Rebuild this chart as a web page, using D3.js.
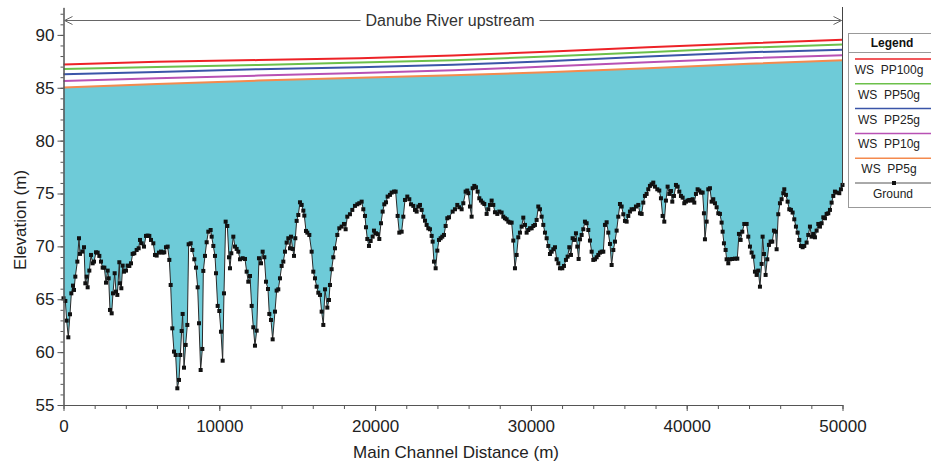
<!DOCTYPE html>
<html>
<head>
<meta charset="utf-8">
<script src="https://cdn.jsdelivr.net/npm/d3@7"></script>
<style>
  body { margin: 0; background: #fff; }
  svg { display: block; font-family: "Liberation Sans", Arial, sans-serif; }
</style>
</head>
<body>
<svg width="931" height="461"></svg>
<script>
// water surface profiles, read at a few stations along the reach
const wsStations = [0, 6000, 12500, 19000, 25000, 31000, 37500, 44000, 50000];
const ws100 = [87.2, 87.45, 87.62, 87.8, 88.05, 88.4, 88.83, 89.2, 89.55];
const ws50 = [86.78, 86.97, 87.16, 87.38, 87.6, 87.95, 88.36, 88.8, 89.08];
const ws25 = [86.27, 86.5, 86.75, 86.95, 87.18, 87.5, 87.95, 88.36, 88.6];
const ws10 = [85.65, 85.9, 86.15, 86.4, 86.65, 87.0, 87.42, 87.8, 88.07];
const ws5 = [85.02, 85.35, 85.68, 85.95, 86.18, 86.47, 86.85, 87.26, 87.6];

const seriesNames = ["WS  PP100g", "WS  PP50g", "WS  PP25g", "WS  PP10g", "WS  PP5g"];
const seriesColors = ["#ed2227", "#6cc04a", "#3a55a8", "#b851b4", "#f48a4e"];

// ground profile (main channel bed)
const groundDist = [
  0, 118, 203, 310, 417, 503, 610, 674, 759, 888, 995, 1059, 1209, 1316, 1401, 1487, 1551, 1658, 1765, 1872,
  1958, 2086, 2193, 2300, 2407, 2514, 2621, 2728, 2835, 2899, 2984, 3092, 3177, 3284, 3369, 3455, 3583, 3626, 3712, 3797,
  3883, 4011, 4118, 4225, 4332, 4439, 4546, 4696, 4824, 4910, 5017, 5166, 5295, 5402, 5509, 5616, 5765, 5872, 5980, 6129,
  6258, 6365, 6471, 6578, 6685, 6792, 6878, 6985, 7092, 7199, 7306, 7413, 7498, 7584, 7648, 7734, 7841, 7948, 8033, 8162,
  8269, 8397, 8504, 8611, 8697, 8803, 8910, 8974, 9081, 9189, 9296, 9445, 9510, 9617, 9723, 9788, 9895, 10001, 10108, 10216,
  10301, 10408, 10515, 10622, 10686, 10771, 10900, 11007, 11114, 11221, 11328, 11499, 11649, 11756, 11862, 11970, 12077, 12183, 12290, 12398,
  12547, 12676, 12783, 12890, 12997, 13125, 13210, 13317, 13425, 13574, 13681, 13787, 13895, 14002, 14109, 14216, 14323, 14430, 14537, 14601,
  14708, 14794, 14879, 14965, 15072, 15179, 15286, 15393, 15457, 15564, 15649, 15778, 15927, 16034, 16141, 16248, 16355, 16462, 16569, 16676,
  16783, 16933, 17040, 17104, 17211, 17318, 17425, 17574, 17703, 17852, 18002, 18109, 18216, 18387, 18537, 18708, 18858, 18987, 19136, 19243,
  19350, 19415, 19500, 19607, 19714, 19843, 19928, 20056, 20163, 20270, 20377, 20484, 20591, 20698, 20806, 20955, 21062, 21212, 21319, 21447,
  21554, 21704, 21811, 21918, 22067, 22196, 22303, 22452, 22560, 22667, 22773, 22880, 22987, 23094, 23202, 23308, 23415, 23522, 23629, 23693,
  23779, 23886, 23993, 24100, 24207, 24313, 24420, 24528, 24634, 24742, 24977, 25127, 25276, 25405, 25554, 25661, 25811, 25918, 25982, 26089,
  26196, 26260, 26367, 26474, 26581, 26688, 26795, 26902, 27009, 27159, 27266, 27373, 27480, 27587, 27694, 27843, 27972, 28121, 28228, 28335,
  28442, 28549, 28656, 28763, 28870, 28977, 29084, 29191, 29298, 29405, 29512, 29619, 29726, 29833, 29940, 30047, 30154, 30261, 30368, 30475,
  30582, 30689, 30796, 30903, 31010, 31117, 31224, 31331, 31438, 31545, 31652, 31759, 31866, 32015, 32122, 32250, 32357, 32464, 32571, 32678,
  32785, 32892, 32978, 33063, 33149, 33256, 33363, 33470, 33577, 33684, 33791, 33898, 34005, 34112, 34219, 34326, 34433, 34540, 34647, 34754,
  34861, 34968, 35075, 35182, 35289, 35396, 35503, 35610, 35717, 35824, 35931, 36038, 36144, 36251, 36358, 36465, 36615, 36743, 36893, 37000,
  37107, 37213, 37320, 37427, 37534, 37641, 37748, 37855, 37962, 38112, 38240, 38347, 38455, 38561, 38668, 38776, 38883, 38990, 39075, 39182,
  39311, 39417, 39524, 39631, 39738, 39845, 39952, 40059, 40166, 40273, 40380, 40487, 40594, 40701, 40808, 40915, 41022, 41107, 41171, 41279,
  41385, 41492, 41599, 41706, 41814, 41921, 42027, 42134, 42241, 42306, 42391, 42498, 42562, 42669, 42776, 42926, 43098, 43247, 43354, 43461,
  43568, 43696, 43846, 43953, 44060, 44167, 44274, 44381, 44488, 44595, 44702, 44809, 44873, 44958, 45065, 45172, 45279, 45386, 45493, 45600,
  45707, 45771, 45878, 45985, 46092, 46199, 46263, 46370, 46477, 46584, 46691, 46798, 46905, 47012, 47119, 47226, 47333, 47441, 47547, 47697,
  47804, 47911, 48018, 48125, 48232, 48339, 48446, 48553, 48660, 48767, 48874, 48981, 49088, 49195, 49302, 49409, 49516, 49623, 49794, 49900,
  50000
];
const groundElev = [
  65.09, 64.84, 62.98, 61.40, 63.58, 65.56, 66.29, 65.88, 67.14, 68.56, 70.77, 69.29, 69.51, 69.92, 66.51, 67.14, 66.13, 67.71, 69.19, 68.40,
  68.56, 69.44, 69.41, 69.10, 68.56, 67.99, 67.99, 66.57, 67.71, 66.98, 63.99, 63.67, 65.56, 67.46, 65.72, 65.41, 68.50, 66.51, 66.04, 68.18,
  67.61, 67.71, 68.18, 68.15, 68.40, 69.29, 69.35, 69.66, 69.82, 70.61, 70.29, 69.98, 70.99, 71.02, 70.99, 70.61, 70.29, 69.19, 69.13, 69.41,
  69.51, 69.41, 69.44, 69.92, 69.98, 68.72, 66.35, 62.25, 60.05, 59.73, 56.58, 57.37, 59.73, 62.00, 63.61, 58.53, 60.68, 62.57, 70.20, 70.29,
  69.66, 68.78, 67.99, 66.13, 62.73, 58.31, 60.30, 67.68, 69.10, 70.39, 71.39, 71.55, 70.92, 70.04, 69.10, 67.46, 64.37, 63.89, 61.93, 59.19,
  65.56, 72.34, 71.93, 68.97, 67.93, 69.35, 70.92, 69.98, 69.76, 69.50, 68.78, 68.88, 68.81, 67.61, 66.66, 67.20, 64.37, 62.35, 60.61, 62.03,
  68.88, 68.40, 69.50, 68.97, 66.66, 65.97, 63.61, 63.04, 61.21, 63.83, 65.82, 65.94, 66.98, 68.15, 68.56, 69.50, 70.36, 70.77, 69.82, 70.92,
  69.76, 69.10, 70.77, 72.41, 72.97, 74.17, 73.92, 73.38, 72.91, 71.46, 71.30, 71.08, 69.50, 67.61, 66.98, 66.19, 65.62, 65.41, 63.83, 62.57,
  65.94, 64.21, 64.93, 66.35, 67.84, 68.97, 69.82, 71.08, 71.71, 71.87, 72.12, 71.62, 72.81, 73.04, 73.45, 73.83, 73.98, 74.08, 74.23, 73.51,
  72.88, 71.81, 70.70, 70.04, 70.51, 70.92, 71.49, 71.24, 71.15, 70.70, 72.19, 73.29, 73.98, 74.17, 74.71, 74.87, 75.09, 75.18, 75.18, 72.88,
  71.30, 71.39, 72.81, 74.39, 74.71, 74.46, 73.98, 73.83, 73.45, 73.29, 73.77, 73.92, 73.45, 72.81, 72.43, 72.03, 71.71, 71.62, 70.99, 70.45,
  68.56, 67.93, 69.60, 70.61, 70.77, 70.92, 71.08, 71.93, 72.66, 72.75, 73.29, 73.51, 73.92, 73.70, 73.51, 74.08, 75.18, 75.28, 75.03, 73.77,
  72.81, 75.50, 75.72, 75.59, 75.18, 74.55, 74.33, 74.14, 74.01, 73.07, 73.51, 73.92, 74.33, 73.92, 73.23, 73.07, 73.29, 73.20, 72.81, 72.66,
  72.56, 72.34, 72.25, 72.25, 70.55, 67.93, 69.19, 70.86, 71.30, 71.87, 72.72, 72.03, 71.30, 71.55, 71.71, 71.71, 71.93, 72.03, 72.50, 73.77,
  73.51, 72.81, 72.03, 71.30, 70.77, 70.04, 69.28, 69.50, 69.73, 69.92, 68.78, 68.40, 67.93, 67.93, 68.15, 68.72, 69.03, 69.92, 69.19, 70.77,
  70.61, 71.24, 69.98, 68.81, 70.67, 71.08, 71.62, 72.34, 72.19, 71.55, 70.55, 69.50, 68.72, 68.78, 68.97, 69.19, 69.41, 69.50, 69.50, 72.03,
  72.28, 71.30, 70.23, 68.24, 69.66, 70.45, 71.49, 72.81, 74.01, 73.77, 73.04, 72.41, 72.34, 72.88, 73.29, 73.51, 73.51, 73.77, 73.92, 73.13,
  73.07, 74.14, 74.77, 74.96, 75.40, 75.72, 75.87, 76.03, 75.65, 75.40, 75.28, 74.55, 72.88, 72.34, 74.33, 75.65, 74.96, 75.24, 74.23, 74.77,
  75.81, 75.65, 75.18, 74.77, 74.61, 74.08, 74.23, 74.33, 74.39, 74.33, 74.46, 74.14, 74.96, 75.40, 75.28, 75.09, 75.09, 73.13, 70.67, 72.34,
  75.40, 75.50, 74.23, 74.46, 74.08, 73.70, 73.13, 73.07, 72.25, 71.39, 70.29, 69.66, 68.78, 68.40, 68.78, 68.81, 68.84, 68.84, 71.18, 70.61,
  71.39, 72.12, 72.12, 70.92, 69.98, 69.41, 69.03, 67.61, 67.30, 67.71, 66.19, 68.34, 70.92, 69.28, 67.30, 68.78, 70.14, 70.45, 70.45, 71.49,
  71.39, 69.73, 73.04, 74.08, 74.46, 75.03, 75.40, 74.87, 74.23, 73.51, 73.45, 73.20, 72.56, 71.87, 71.30, 70.61, 70.04, 69.92, 70.04, 70.36,
  71.08, 71.87, 70.92, 71.18, 70.86, 71.49, 72.12, 71.87, 72.19, 72.75, 72.66, 73.07, 73.13, 73.45, 74.14, 74.77, 75.18, 75.09, 75.03, 75.40,
  75.81
];

const xTicks = [0, 10000, 20000, 30000, 40000, 50000];
const yTicks = [55, 60, 65, 70, 75, 80, 85, 90];

const svg = d3.select("svg");

const x = d3.scaleLinear().domain([0, 50000]).range([63.5, 842.5]);
const y = d3.scaleLinear().domain([55, 92.6]).range([405, 7.4]);

const ground = groundDist.map((d, i) => ({ dist: d, elev: groundElev[i] }));
const wsValues = [ws100, ws50, ws25, ws10, ws5];
const series = seriesNames.map((name, i) => ({
  name: name,
  color: seriesColors[i],
  values: wsStations.map((s, j) => ({ dist: s, elev: wsValues[i][j] }))
}));

// lowest water surface, used as the top of the wetted area
const ws5At = d3.scaleLinear().domain(wsStations).range(ws5);

svg.append("path")
    .datum(ground)
    .attr("fill", "#6ecbd8")
    .attr("d", d3.area()
      .x(d => x(d.dist))
      .y0(d => y(d.elev))
      .y1(d => y(ws5At(d.dist))));

let line = d3.line()
    .x(d => x(d.dist))
    .y(d => y(d.elev));

svg.selectAll(".ws")
    .data(series)
  .enter().append("path")
    .attr("class", "ws")
    .attr("fill", "none")
    .attr("stroke", d => d.color)
    .attr("stroke-width", 2)
    .attr("d", d => line(d.values));

svg.append("path")
    .datum(ground)
    .attr("fill", "none")
    .attr("stroke", "#2a2a2a")
    .attr("stroke-width", 1)
    .attr("d", line);

svg.selectAll(".pt")
    .data(ground)
  .enter().append("rect")
    .attr("class", "pt")
    .attr("x", d => x(d.dist) - 2)
    .attr("y", d => y(d.elev) - 2)
    .attr("width", 4)
    .attr("height", 4)
    .attr("fill", "#111");

// axes
function styleAxis(g) {
  g.selectAll("path, line").attr("stroke", "#555");
  g.selectAll("text").attr("fill", "#222").style("font-size", "17px");
}

svg.append("g")
    .attr("transform", "translate(63.5,0)")
    .call(d3.axisLeft(y).tickValues(d3.range(55, 93, 1)).tickSize(3).tickSizeOuter(0).tickFormat(""))
    .call(styleAxis);
svg.append("g")
    .attr("transform", "translate(63.5,0)")
    .call(d3.axisLeft(y).tickValues(yTicks).tickSize(6).tickSizeOuter(0).tickPadding(3).tickFormat(d3.format("d")))
    .call(styleAxis);

svg.append("g")
    .attr("transform", "translate(0,405)")
    .call(d3.axisBottom(x).tickValues(d3.range(0, 50001, 2000)).tickSize(4).tickSizeOuter(0).tickFormat(""))
    .call(styleAxis);
svg.append("g")
    .attr("transform", "translate(0,405)")
    .call(d3.axisBottom(x).tickValues(xTicks).tickSize(6).tickSizeOuter(0).tickPadding(9).tickFormat(d3.format("d")))
    .call(styleAxis);

svg.append("text")
    .attr("transform", "translate(20,220) rotate(-90)")
    .attr("text-anchor", "middle")
    .attr("dy", "0.35em")
    .attr("fill", "#222")
    .style("font-size", "17px")
    .text("Elevation (m)");

svg.append("text")
    .attr("x", 456)
    .attr("y", 458)
    .attr("text-anchor", "middle")
    .attr("fill", "#222")
    .style("font-size", "17px")
    .text("Main Channel Distance (m)");

// right end marker of the reach
svg.append("line")
    .attr("x1", x(50000)).attr("x2", x(50000))
    .attr("y1", 7).attr("y2", y(groundElev[groundElev.length - 1]))
    .attr("stroke", "#444");

// "upstream" annotation arrow
let ann = svg.append("g");
let annY = 20.5;
ann.append("line")
    .attr("x1", x(0) + 1).attr("x2", x(50000) - 1)
    .attr("y1", annY).attr("y2", annY)
    .attr("stroke", "#666");
ann.append("path")
    .attr("fill", "none")
    .attr("stroke", "#666")
    .attr("d", `M${x(0) + 9},${annY - 4}L${x(0) + 1},${annY}L${x(0) + 9},${annY + 4}` +
               `M${x(50000) - 9},${annY - 4}L${x(50000) - 1},${annY}L${x(50000) - 9},${annY + 4}`);
let annText = ann.append("text")
    .attr("x", 450)
    .attr("y", annY)
    .attr("dy", "0.35em")
    .attr("text-anchor", "middle")
    .attr("fill", "#333")
    .style("font-size", "16px")
    .text("Danube River upstream");
let bb = annText.node().getBBox();
ann.insert("rect", "text")
    .attr("x", bb.x - 5).attr("y", bb.y)
    .attr("width", bb.width + 10).attr("height", bb.height)
    .attr("fill", "#fff");

// legend
let legend = svg.append("g");
legend.append("rect")
    .attr("x", 848.5).attr("y", 33.5)
    .attr("width", 100).attr("height", 174)
    .attr("fill", "#fff")
    .attr("stroke", "#999");
legend.append("text")
    .attr("x", 892).attr("y", 47)
    .attr("text-anchor", "middle")
    .attr("fill", "#111")
    .style("font-size", "12px")
    .style("font-weight", "bold")
    .text("Legend");
legend.append("line")
    .attr("x1", 848.5).attr("x2", 931)
    .attr("y1", 52.5).attr("y2", 52.5)
    .attr("stroke", "#999");

let item = legend.selectAll(".item")
    .data(series)
  .enter().append("g")
    .attr("class", "item")
    .attr("transform", (d, i) => `translate(0, ${59 + i * 24.8})`);
item.append("line")
    .attr("x1", 855).attr("x2", 931)
    .attr("stroke", d => d.color)
    .attr("stroke-width", 1.5);
item.append("text")
    .attr("x", 889).attr("y", 15)
    .attr("text-anchor", "middle")
    .attr("fill", "#222")
    .style("font-size", "12px")
    .style("white-space", "pre")
    .text(d => d.name);

let gItem = legend.append("g").attr("transform", "translate(0,183)");
gItem.append("line")
    .attr("x1", 855).attr("x2", 931)
    .attr("stroke", "#555");
gItem.append("rect")
    .attr("x", 892).attr("y", -2).attr("width", 4).attr("height", 4)
    .attr("fill", "#111");
gItem.append("text")
    .attr("x", 893).attr("y", 15)
    .attr("text-anchor", "middle")
    .attr("fill", "#222")
    .style("font-size", "12px")
    .text("Ground");
</script>
</body>
</html>
